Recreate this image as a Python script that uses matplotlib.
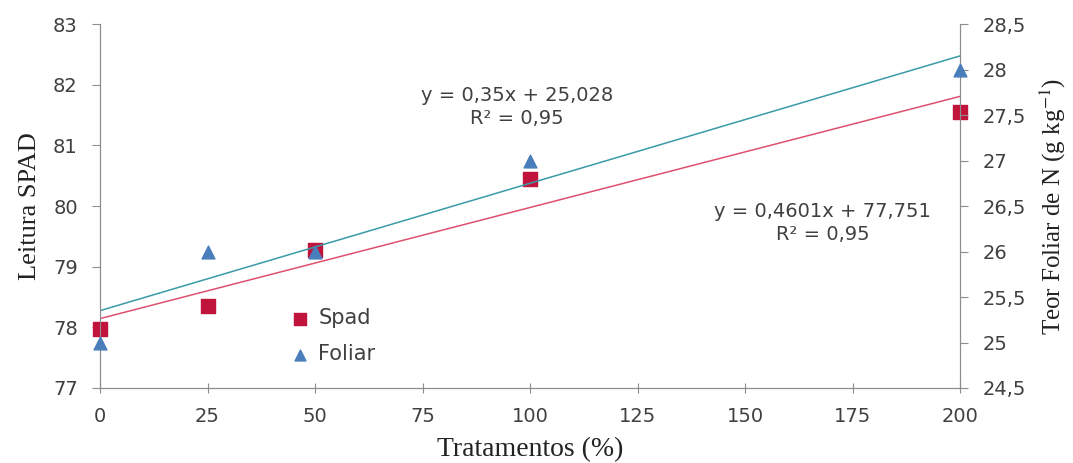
import numpy as np
import matplotlib.pyplot as plt
from matplotlib.ticker import FuncFormatter

#==============================================================================
#- datos
#==============================================================================
tratamentos = [0, 25, 50, 100, 200]
spad = [77.97, 78.35, 79.27, 80.45, 81.55]
foliar = [25.0, 26.0, 26.0, 27.0, 28.0]

eq_foliar = 'y = 0,35x + 25,028\nR² = 0,95'
eq_spad = 'y = 0,4601x + 77,751\nR² = 0,95'

#==============================================================================
#- figura
#==============================================================================
plt.rcParams['mathtext.fontset'] = 'stix'
cinza = '#404040'
fig = plt.figure(figsize=(10.73, 4.63), dpi=100)
ax = fig.add_axes([0.0932, 0.162, 0.8015, 0.786])
ax2 = ax.twinx()

# linhas de tendencia
xx = np.array([0, 200])
a1, b1 = np.polyfit(tratamentos, spad, 1)
a2, b2 = np.polyfit(tratamentos, foliar, 1)
ax.plot(xx, a1 * xx + b1, color='#e0506e', lw=1.1, zorder=2)
ax2.plot(xx, a2 * xx + b2, color='#3a9aa8', lw=1.1, zorder=2)

ax.scatter(tratamentos, spad, marker='s', s=95, color='#c0143c', zorder=3,
           label='Spad', clip_on=False)
ax2.scatter(tratamentos, foliar, marker='^', s=85, color='#4a7ebb', zorder=3,
            label='Foliar', clip_on=False)

ax.set_xlim(0, 200)
ax.set_ylim(77, 83)
ax2.set_ylim(24.5, 28.5)
ax.set_xticks(np.arange(0, 201, 25))
ax.set_yticks(np.arange(77, 84, 1))
ax2.set_yticks(np.arange(24.5, 28.6, 0.5))
ax2.yaxis.set_major_formatter(FuncFormatter(lambda v, p: ('%g' % v).replace('.', ',')))

for a in (ax, ax2):
    a.spines['top'].set_visible(False)
    for s in ('left', 'right', 'bottom'):
        a.spines[s].set_color('#8c8c8c')
    a.tick_params(labelsize=14, colors='#8c8c8c', labelcolor=cinza, length=6)
ax.tick_params(axis='x', direction='inout', length=7, pad=10)
ax.tick_params(axis='y', pad=10)
ax2.tick_params(axis='y', pad=10)

ax.set_xlabel('Tratamentos (%)', family='Liberation Serif', fontsize=20, color='#222222', labelpad=8)
ax.set_ylabel('Leitura SPAD', family='Liberation Serif', fontsize=19, color='#222222', labelpad=9)
ax2.set_ylabel('Teor Foliar de N (g kg$^{-1}$)', family='Liberation Serif', fontsize=18,
               color='#222222', labelpad=9)

ax.text(97, 81.63, eq_foliar, ha='center', va='center', fontsize=14, color=cinza, linespacing=1.25)
ax.text(168, 79.72, eq_spad, ha='center', va='center', fontsize=14, color=cinza, linespacing=1.25)

# legenda
h1, l1 = ax.get_legend_handles_labels()
h2, l2 = ax2.get_legend_handles_labels()
leg = ax2.legend(h1 + h2, l1 + l2, loc='upper left', bbox_to_anchor=(0.186, 0.27),
                 frameon=False, fontsize=15, handletextpad=-0.1, labelspacing=0.75,
                 markerscale=0.85)
for t in leg.get_texts():
    t.set_color(cinza)

fig.savefig('out.png', dpi=100)
